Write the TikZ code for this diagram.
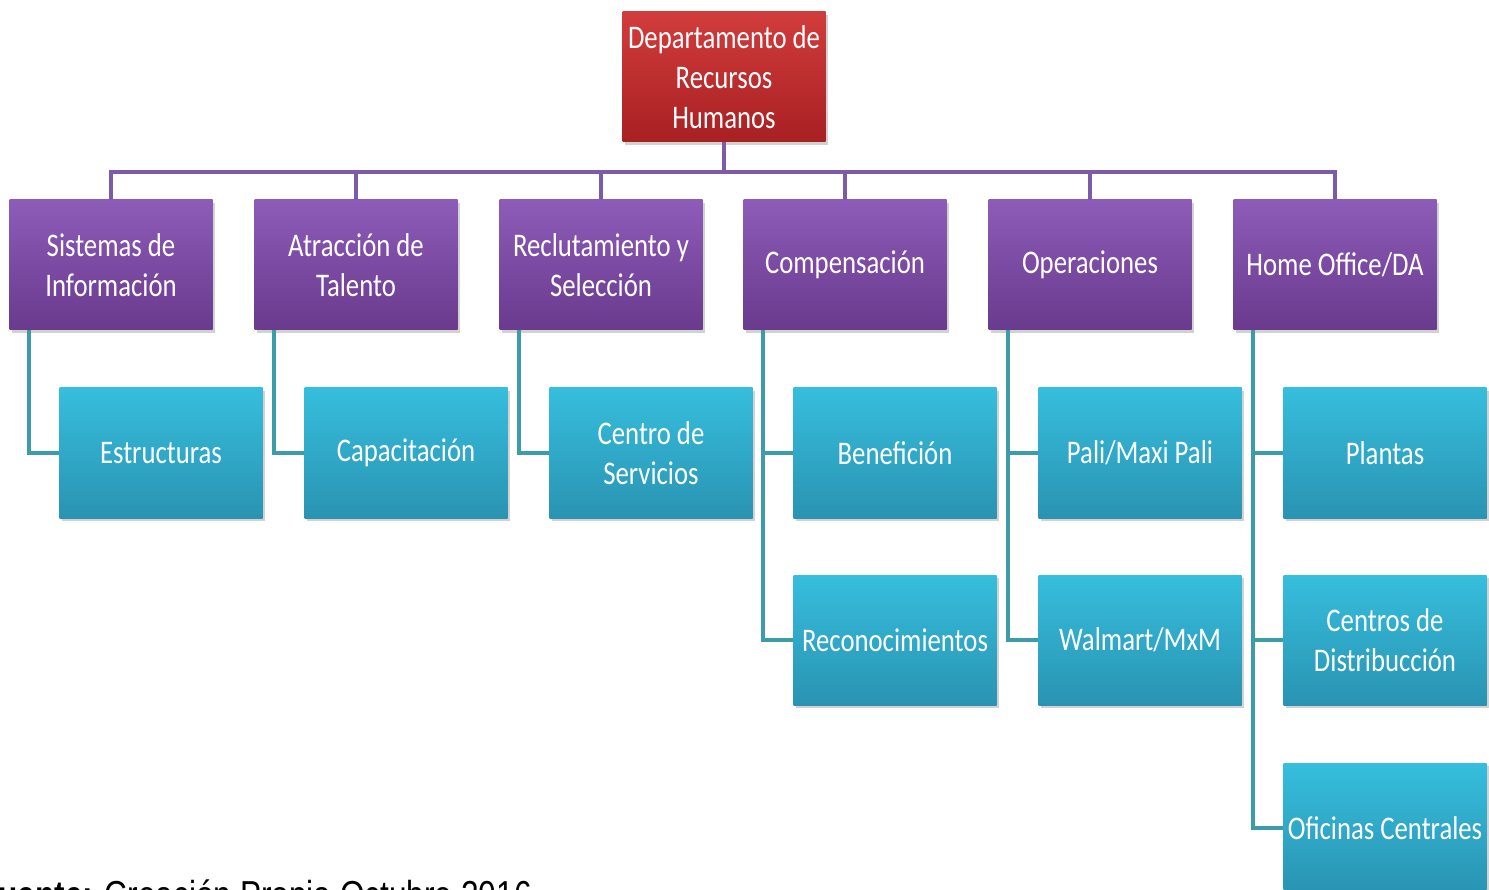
\documentclass[tikz,border=0pt]{standalone}
\usepackage{fontspec}
\newfontfamily\boxfont{Carlito}[FakeStretch=0.81]
\newfontfamily\notefont{Liberation Sans}[FakeStretch=0.81]
\usepackage{tikz}
\usetikzlibrary{shadows}

\definecolor{rojoTop}{HTML}{D23C3C}
\definecolor{rojoBot}{HTML}{A82022}
\definecolor{moradoTop}{HTML}{8C5CB8}
\definecolor{moradoBot}{HTML}{6A3A8E}
\definecolor{azulTop}{HTML}{36BEDD}
\definecolor{azulBot}{HTML}{2A93B2}
\definecolor{lineaMorada}{HTML}{7C5CA8}
\definecolor{lineaAzul}{HTML}{3E9CA8}

\tikzset{
    box/.style={rectangle, minimum width=203pt, minimum height=130pt,
        inner sep=0pt, align=center, text=white,
        font=\boxfont\fontsize{33}{40}\selectfont,
        drop shadow={opacity=0.35, shadow xshift=2pt, shadow yshift=-3pt}},
    jefe/.style={box, top color=rojoTop, bottom color=rojoBot},
    area/.style={box, top color=moradoTop, bottom color=moradoBot},
    sub/.style={box, top color=azulTop, bottom color=azulBot},
    bus/.style={draw=lineaMorada, line width=4.5pt},
    rama/.style={draw=lineaAzul, line width=4pt},
}

\begin{document}
\begin{tikzpicture}[x=1pt, y=-1pt]
    \clip (0,0) rectangle (1489,890);
    \fill[white] (0,0) rectangle (1489,890);

    \coordinate (barra) at (724,172);

    \node[jefe] (drh)  at (724,77)  {Departamento de\\Recursos\\Humanos};

    \node[area] (sis)  at (111,265)  {Sistemas de\\Información};
    \node[area] (atr)  at (356,265)  {Atracción de\\Talento};
    \node[area] (rec)  at (601,265)  {Reclutamiento y\\Selección};
    \node[area] (comp) at (845,265)  {Compensación};
    \node[area] (ope)  at (1090,265) {Operaciones};
    \node[area] (home) at (1335,265) {Home Office/DA};

    \node[sub]  (est)  at (161,453)  {Estructuras};
    \node[sub]  (cap)  at (406,453)  {Capacitación};
    \node[sub]  (cen)  at (651,453)  {Centro de\\Servicios};
    \node[sub]  (ben)  at (895,453)  {Benefición};
    \node[sub]  (reco) at (895,640)  {Reconocimientos};
    \node[sub]  (pali) at (1140,453) {Pali/Maxi Pali};
    \node[sub]  (wal)  at (1140,640) {Walmart/MxM};
    \node[sub]  (pla)  at (1385,453) {Plantas};
    \node[sub]  (cdis) at (1385,640) {Centros de\\Distribucción};
    \node[sub]  (ofi)  at (1385,828) {Oficinas Centrales};

    % bus de las areas
    \draw[bus] (drh.south) -- (barra);
    \foreach \a in {sis, atr, rec, comp, ope, home}
        \draw[bus] (barra) -| (\a.north);

    % ramas
    \draw[rama] ([xshift=20pt]sis.south west)  |- (est.west);
    \draw[rama] ([xshift=20pt]atr.south west)  |- (cap.west);
    \draw[rama] ([xshift=20pt]rec.south west)  |- (cen.west);
    \draw[rama] ([xshift=20pt]comp.south west) |- (ben.west);
    \draw[rama] ([xshift=20pt]comp.south west) |- (reco.west);
    \draw[rama] ([xshift=20pt]ope.south west)  |- (pali.west);
    \draw[rama] ([xshift=20pt]ope.south west)  |- (wal.west);
    \draw[rama] ([xshift=20pt]home.south west) |- (pla.west);
    \draw[rama] ([xshift=20pt]home.south west) |- (cdis.west);
    \draw[rama] ([xshift=20pt]home.south west) |- (ofi.west);

    \node[anchor=base west, inner sep=0pt, font=\notefont\fontsize{39}{45}\selectfont]
        (fuente) at (-21,908) {\textbf{Fuente:} Creación Propia Octubre 2016};
\end{tikzpicture}
\end{document}
